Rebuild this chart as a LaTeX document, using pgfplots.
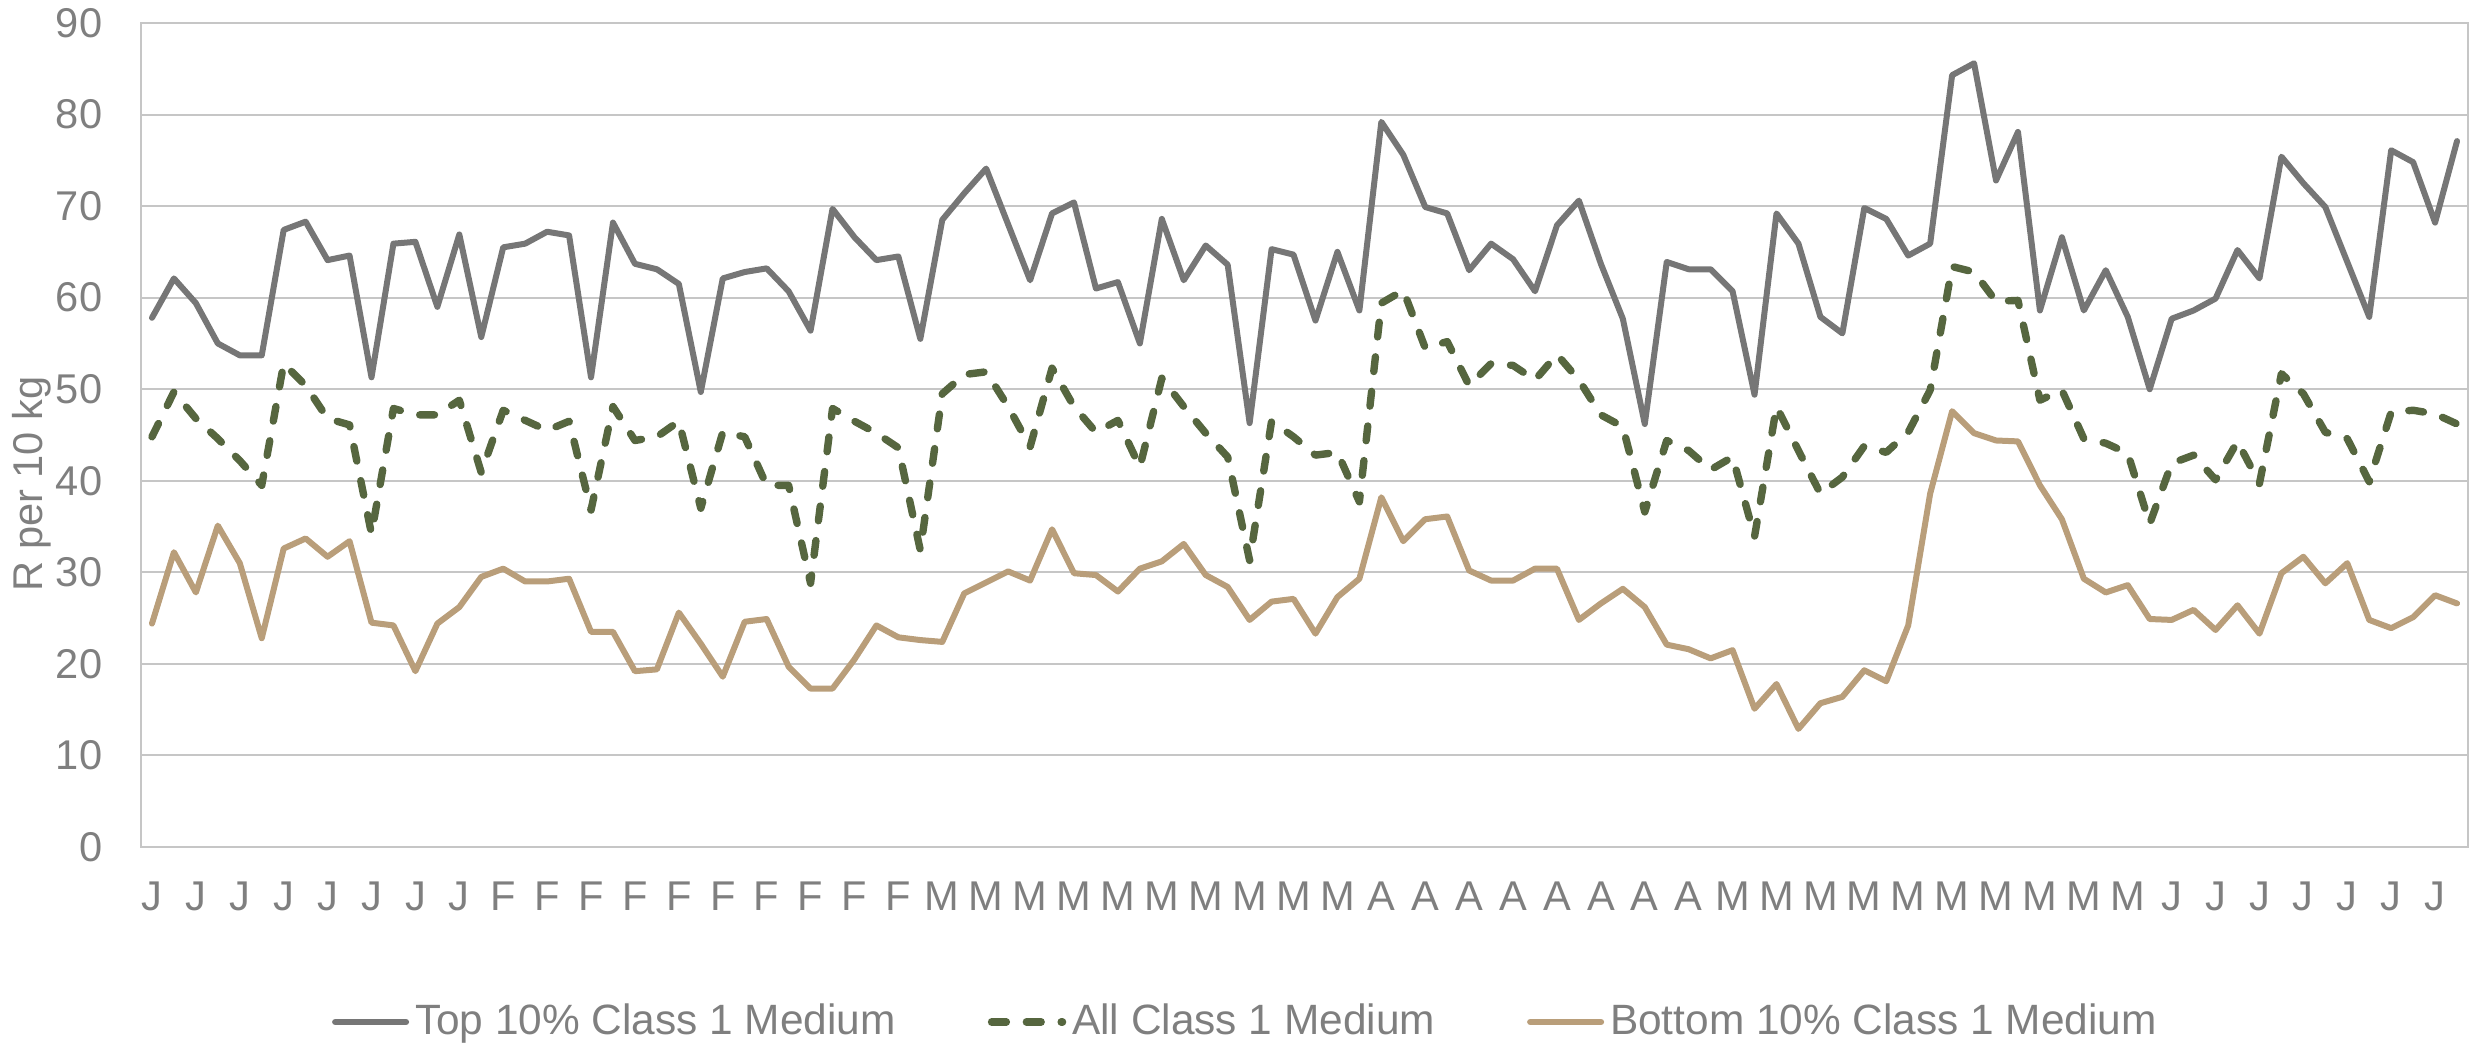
\documentclass[border=0pt]{standalone}
\usepackage{fontspec}
\setmainfont{Liberation Sans}
\usepackage{pgfplots}
\usepackage{pgfplotstable}
\pgfplotsset{compat=1.18}
\definecolor{txtgray}{HTML}{7F7F7F}
\definecolor{gridgray}{HTML}{C6C6C6}
\definecolor{topgray}{HTML}{767676}
\definecolor{allgreen}{HTML}{56663F}
\definecolor{bottan}{HTML}{B99E7A}
\pgfplotstableread{
x T A B
0 57.8 44.8 24.4
1 62.1 49.7 32.2
2 59.4 46.8 27.8
3 55.0 44.6 35.1
4 53.7 42.2 31.0
5 53.7 39.5 22.8
6 67.4 52.8 32.6
7 68.3 50.4 33.7
8 64.1 46.8 31.7
9 64.6 46.1 33.4
10 51.3 34.2 24.5
11 65.9 47.9 24.2
12 66.1 47.2 19.2
13 59.0 47.2 24.4
14 66.9 48.8 26.2
15 55.7 40.9 29.5
16 65.5 47.7 30.4
17 65.9 46.6 29.0
18 67.2 45.5 29.0
19 66.8 46.5 29.3
20 51.3 36.8 23.5
21 68.2 48.1 23.5
22 63.7 44.4 19.2
23 63.1 44.8 19.4
24 61.5 46.5 25.6
25 49.7 37.0 22.2
26 62.1 45.3 18.6
27 62.8 44.8 24.6
28 63.2 39.5 24.9
29 60.7 39.5 19.7
30 56.4 28.8 17.3
31 69.7 47.9 17.3
32 66.6 46.5 20.5
33 64.1 45.2 24.2
34 64.5 43.6 22.9
35 55.5 32.4 22.6
36 68.5 49.5 22.4
37 71.4 51.6 27.7
38 74.1 51.9 28.9
39 68.0 48.1 30.1
40 61.9 43.7 29.1
41 69.2 52.3 34.7
42 70.4 48.1 29.9
43 61.0 45.3 29.7
44 61.7 46.6 27.9
45 55.0 41.5 30.4
46 68.6 51.2 31.2
47 61.9 48.1 33.1
48 65.7 45.2 29.7
49 63.6 42.6 28.4
50 46.3 31.3 24.8
51 65.3 46.5 26.8
52 64.7 44.8 27.1
53 57.5 42.8 23.3
54 65.0 43.1 27.3
55 58.6 37.7 29.3
56 79.2 59.4 38.2
57 75.6 60.8 33.4
58 69.9 54.5 35.8
59 69.2 55.2 36.1
60 63.0 50.4 30.2
61 65.9 52.8 29.1
62 64.2 52.6 29.1
63 60.7 51.0 30.4
64 67.9 53.8 30.4
65 70.6 51.0 24.8
66 63.7 47.2 26.6
67 57.7 45.9 28.2
68 46.2 36.6 26.2
69 63.9 44.4 22.1
70 63.1 43.3 21.6
71 63.1 41.2 20.6
72 60.7 42.6 21.5
73 49.4 33.9 15.1
74 69.2 48.1 17.8
75 65.9 43.3 12.9
76 57.9 38.6 15.7
77 56.1 40.4 16.4
78 69.8 43.8 19.3
79 68.6 43.1 18.1
80 64.6 45.3 24.2
81 65.9 49.9 38.6
82 84.3 63.4 47.6
83 85.6 62.8 45.2
84 72.8 59.6 44.4
85 78.1 59.7 44.3
86 58.6 48.8 39.5
87 66.6 49.9 35.8
88 58.6 44.6 29.3
89 63.0 44.1 27.8
90 57.9 43.0 28.6
91 50.0 35.3 24.9
92 57.7 41.9 24.8
93 58.6 42.8 25.9
94 59.9 40.1 23.7
95 65.2 44.3 26.4
96 62.1 39.7 23.3
97 75.4 51.7 29.9
98 72.5 49.5 31.7
99 69.9 45.3 28.8
100 63.9 44.6 31.0
101 57.9 39.9 24.8
102 76.1 47.5 23.9
103 74.8 47.7 25.1
104 68.2 47.3 27.5
105 77.1 46.2 26.6
}\datatable

\begin{document}
\begin{tikzpicture}
\begin{axis}[
  scale only axis, width=581.75pt, height=206pt,
  xmin=-0.5, xmax=105.5, ymin=0, ymax=90,
  ytick={0,10,...,90},
  xtick={0,2,...,104},
  xticklabels={J,J,J,J,J,J,J,J,F,F,F,F,F,F,F,F,F,F,M,M,M,M,M,M,M,M,M,M,A,A,A,A,A,A,A,A,M,M,M,M,M,M,M,M,M,M,J,J,J,J,J,J,J},
  major tick length=0pt,
  ymajorgrids, grid style={gridgray, line width=0.5pt},
  axis line style={gridgray, line width=0.5pt},
  tick label style={font=\fontsize{10.4}{12}\selectfont, text=txtgray},
  /pgf/number format/assume math mode=true,
  yticklabel style={anchor=east, inner sep=0pt, xshift=-9.5pt},
  xticklabel style={anchor=north, inner sep=0pt, yshift=-8.5pt},
  ylabel={R per 10 kg},
  ylabel style={at={(axis description cs:-0.0468,0.4405)}, anchor=center, font=\fontsize{10.4}{12}\selectfont, text=txtgray},
  no markers,
  legend columns=3,
  legend style={at={(0.4755,-0.2124)}, anchor=center, draw=none, fill=none,
    font=\fontsize{10.6}{12}\selectfont, text=txtgray,
    nodes={inner xsep=1.5pt},
    /tikz/every even column/.append style={column sep=21.5pt}},
  legend cell align=left,
  legend image code/.code={\draw[#1] (0pt,0pt) -- (17.75pt,0pt);},
]
\coordinate (o) at (rel axis cs:0,0);
\addplot[topgray, line width=1.5pt, line join=round, line cap=round] table[x=x, y=T]{\datatable};
\addlegendentry{Top 10\% Class 1 Medium}
\addplot[allgreen, line width=1.85pt, dash pattern=on 3.7pt off 5pt, line cap=round, line join=round] table[x=x, y=A]{\datatable};
\addlegendentry{All Class 1 Medium}
\addplot[bottan, line width=1.5pt, line join=round, line cap=round] table[x=x, y=B]{\datatable};
\addlegendentry{Bottom 10\% Class 1 Medium}
\end{axis}
\pgfresetboundingbox
\path ([shift={(-35.25pt,-49.25pt)}]o) rectangle ([shift={(583.25pt,211.75pt)}]o);
\end{tikzpicture}
\end{document}
